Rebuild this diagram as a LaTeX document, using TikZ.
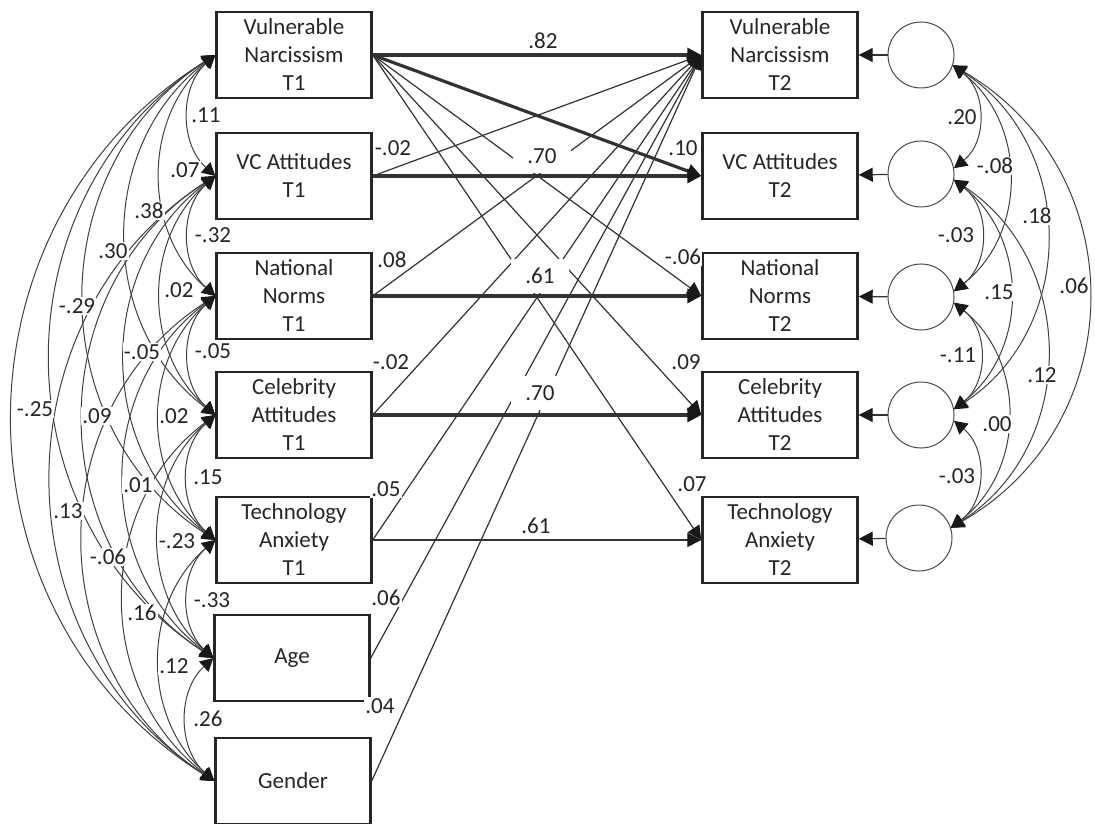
\documentclass[tikz,border=0pt]{standalone}
\usepackage{fontspec}
\setmainfont{Carlito}
\usetikzlibrary{arrows.meta}

\tikzset{
	var/.style={draw=black!85, line width=1.2pt, minimum width=77.5pt, minimum height=43pt, align=center, inner sep=0pt, text=black!85, font=\fontsize{11.5}{14}\selectfont},
	res/.style={circle, draw=black!70, line width=0.5pt, minimum size=33pt, inner sep=0pt},
	reg/.style={draw=black!80, line width=0.6pt, -{Triangle[length=7pt,width=7pt,color=black!90]}},
	regthick/.style={reg, line width=1.6pt},
	cov/.style={draw=black!75, line width=0.5pt, {Triangle[length=6.5pt,width=7pt,color=black!90]}-{Triangle[length=6.5pt,width=7pt,color=black!90]}},
	lbl/.style={fill=white, inner sep=0.6pt, text=black!85, font=\fontsize{11.5}{14}\selectfont},
	midlbl/.style={lbl, inner xsep=7pt, inner ysep=4.5pt},
	lsp1/.style={bend right=48, looseness=1.02},
	lsp2/.style={bend right=49, looseness=1.03},
	lsp3/.style={bend right=53, looseness=1.06},
	lsp4/.style={bend right=57, looseness=1.10},
	lsp5/.style={bend right=57, looseness=1.10},
	lsp6/.style={bend right=58, looseness=1.12},
	rsp1/.style={bend left=52, looseness=1.06},
	rsp2/.style={bend left=52, looseness=1.06},
	rsp3/.style={bend left=57, looseness=1.10},
	rsp4/.style={bend left=60, looseness=1.16}
}

\begin{document}
\begin{tikzpicture}[x=0.5pt, y=0.5pt]
		%%%%% START %%%%%
		\useasboundingbox (0,0) rectangle (1095,-823);
		
		% time 1
		\node[var] (vn1) at (294,-55) {Vulnerable\\Narcissism\\T1};
		\node[var] (vc1) at (294,-176) {VC Attitudes\\T1};
		\node[var] (nn1) at (294,-296) {National\\Norms\\T1};
		\node[var] (ca1) at (294,-415) {Celebrity\\Attitudes\\T1};
		\node[var] (ta1) at (294,-540) {Technology\\Anxiety\\T1};
		\node[var] (age) at (292,-658) {Age};
		\node[var] (gen) at (293,-781) {Gender};
		
		% time 2
		\node[var] (vn2) at (780,-55) {Vulnerable\\Narcissism\\T2};
		\node[var] (vc2) at (780,-176) {VC Attitudes\\T2};
		\node[var] (nn2) at (780,-296) {National\\Norms\\T2};
		\node[var] (ca2) at (780,-415) {Celebrity\\Attitudes\\T2};
		\node[var] (ta2) at (780,-540) {Technology\\Anxiety\\T2};
		
		% residuals
		\node[res] (e1) at (921,-55) {};
		\node[res] (e2) at (921,-174) {};
		\node[res] (e3) at (921,-297) {};
		\node[res] (e4) at (921,-415) {};
		\node[res] (e5) at (919,-538) {};
		
		\draw[reg] (e1) -- (vn2);
		\draw[reg] (e2) -- (vc2);
		\draw[reg] (e3) -- (nn2);
		\draw[reg] (e4) -- (ca2);
		\draw[reg] (e5) -- (ta2);
		
		% covariances T1
		\draw[cov, lsp1] (vn1.west) to (vc1.west);
		\draw[cov, lsp1] (vc1.west) to (nn1.west);
		\draw[cov, lsp1] (nn1.west) to (ca1.west);
		\draw[cov, lsp1] (ca1.west) to (ta1.west);
		\draw[cov, lsp1] (ta1.west) to (age.west);
		\draw[cov, lsp1] (age.west) to (gen.west);
		\draw[cov, lsp2] (vn1.west) to (nn1.west);
		\draw[cov, lsp2] (vc1.west) to (ca1.west);
		\draw[cov, lsp2] (nn1.west) to (ta1.west);
		\draw[cov, lsp2] (ca1.west) to (age.west);
		\draw[cov, lsp2] (ta1.west) to (gen.west);
		\draw[cov, lsp3] (vn1.west) to (ca1.west);
		\draw[cov, lsp3] (vc1.west) to (ta1.west);
		\draw[cov, lsp3] (nn1.west) to (age.west);
		\draw[cov, lsp3] (ca1.west) to (gen.west);
		\draw[cov, lsp4] (vn1.west) to (ta1.west);
		\draw[cov, lsp4] (vc1.west) to (age.west);
		\draw[cov, lsp4] (nn1.west) to (gen.west);
		\draw[cov, lsp5] (vn1.west) to (age.west);
		\draw[cov, lsp5] (vc1.west) to (gen.west);
		\draw[cov, lsp6] (vn1.west) to (gen.west);
		
		% covariances residuals
		\draw[cov, rsp1] (e1.-18) to (e2.10);
		\draw[cov, rsp1] (e2.-10) to (e3.10);
		\draw[cov, rsp1] (e3.-10) to (e4.10);
		\draw[cov, rsp1] (e4.-10) to (e5.18);
		\draw[cov, rsp2] (e1.-18) to (e3.10);
		\draw[cov, rsp2] (e2.-10) to (e4.10);
		\draw[cov, rsp2] (e3.-10) to (e5.18);
		\draw[cov, rsp3] (e1.-18) to (e4.10);
		\draw[cov, rsp3] (e2.-10) to (e5.18);
		\draw[cov, rsp4] (e1.-18) to (e5.18);
		
		% thin paths
		\draw[reg] (vn1.east) -- (nn2.west);
		\draw[reg] (vn1.east) -- (ca2.west);
		\draw[reg] (vn1.east) -- (ta2.west);
		\draw[reg] (vc1.east) -- (vn2.west);
		\draw[reg] (nn1.east) -- (vn2.west);
		\draw[reg] (ca1.east) -- (vn2.west);
		\draw[reg] (ta1.east) -- (vn2.west);
		\draw[reg] (age.east) -- (vn2.west);
		\draw[reg] (gen.east) -- (vn2.west);
		
		% path labels
		\node[midlbl] (p-vn) at (543,-41) {.82};
		\node[midlbl] (p-vc) at (542,-156) {.70};
		\node[midlbl] (p-nn) at (540,-276) {.61};
		\node[midlbl] (p-ca) at (540,-393) {.70};
		\node[midlbl] (p-ta) at (536,-526) {.61};
		\node[lbl] (p-vc-vn) at (393,-148) {-.02};
		\node[lbl] (p-nn-vn) at (392,-260) {.08};
		\node[lbl] (p-ca-vn) at (391,-362) {-.02};
		\node[lbl] (p-ta-vn) at (386,-489) {.05};
		\node[lbl] (p-age-vn) at (386,-598) {.06};
		\node[lbl] (p-gen-vn) at (380,-706) {.04};
		\node[lbl] (p-vn-vc) at (683,-148) {.10};
		\node[lbl] (p-vn-nn) at (683,-257) {-.06};
		\node[lbl] (p-vn-ca) at (686,-362) {.09};
		\node[lbl] (p-vn-ta) at (692,-484) {.07};
		
		% stability paths
		\draw[regthick] (vn1.east) -- (vn2.west);
		\draw[regthick] (vn1.east) -- (vc2.west);
		\draw[regthick] (vc1.east) -- (vc2.west);
		\draw[regthick] (nn1.east) -- (nn2.west);
		\draw[regthick] (ca1.east) -- (ca2.west);
		\draw[reg] (ta1.east) -- (ta2.west);
		
		% covariance labels T1
		\node[lbl] (c-vn-vc) at (206,-115) {.11};
		\node[lbl] (c-vn-nn) at (185,-170) {.07};
		\node[lbl] (c-vn-ca) at (149,-211) {.38};
		\node[lbl] (c-vn-ta) at (113,-251) {.30};
		\node[lbl] (c-vn-age) at (77,-306) {-.29};
		\node[lbl] (c-vn-gen) at (35,-409) {-.25};
		\node[lbl] (c-vc-nn) at (213,-235) {-.32};
		\node[lbl] (c-vc-ca) at (179,-290) {.02};
		\node[lbl] (c-vc-ta) at (142,-352) {-.05};
		\node[lbl] (c-vc-age) at (97,-416) {.09};
		\node[lbl] (c-vc-gen) at (68,-511) {.13};
		\node[lbl] (c-nn-ca) at (213,-351) {-.05};
		\node[lbl] (c-nn-ta) at (174,-416) {.02};
		\node[lbl] (c-nn-age) at (138,-485) {.01};
		\node[lbl] (c-nn-gen) at (108,-557) {-.06};
		\node[lbl] (c-ca-ta) at (208,-477) {.15};
		\node[lbl] (c-ca-age) at (177,-541) {-.23};
		\node[lbl] (c-ca-gen) at (142,-613) {.16};
		\node[lbl] (c-ta-age) at (212,-600) {-.33};
		\node[lbl] (c-ta-gen) at (174,-666) {.12};
		\node[lbl] (c-age-gen) at (208,-719) {.26};
		
		% covariance labels residuals
		\node[lbl] (r-12) at (962,-117) {.20};
		\node[lbl] (r-13) at (995,-166) {-.08};
		\node[lbl] (r-14) at (1037,-216) {.18};
		\node[lbl] (r-15) at (1074,-286) {.06};
		\node[lbl] (r-23) at (956,-235) {-.03};
		\node[lbl] (r-24) at (999,-292) {.15};
		\node[lbl] (r-25) at (1042,-375) {.12};
		\node[lbl] (r-34) at (958,-355) {-.11};
		\node[lbl] (r-35) at (997,-424) {.00};
		\node[lbl] (r-45) at (957,-476) {-.03};
		
		%%%%% END %%%%%
\end{tikzpicture}
\end{document}
